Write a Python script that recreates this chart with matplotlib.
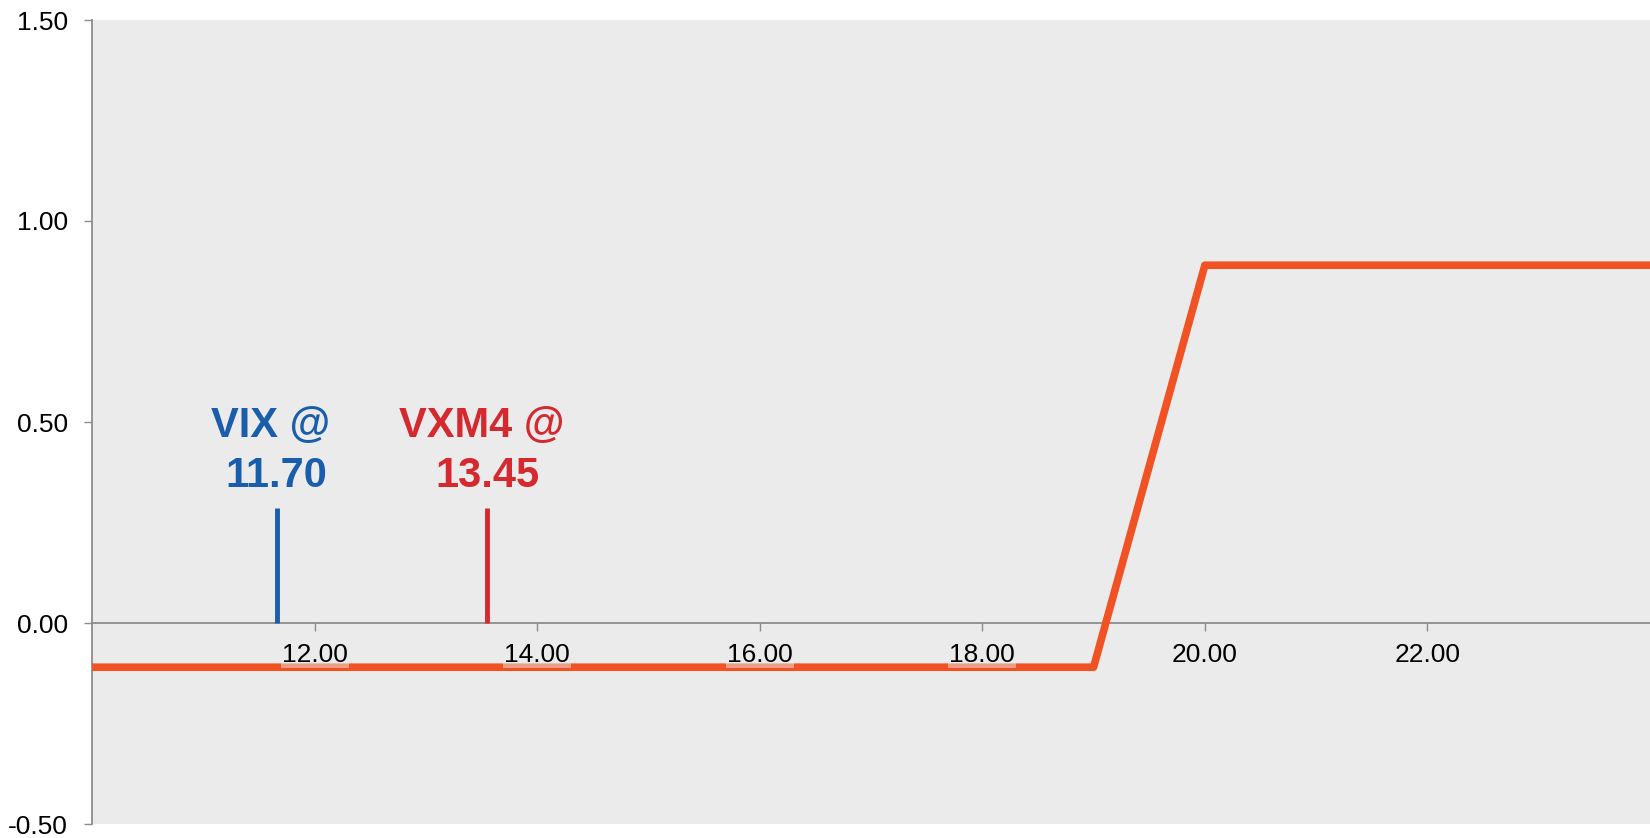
import numpy as np
import matplotlib
matplotlib.use("Agg")
import matplotlib.pyplot as plt

plt.rcParams['font.family'] = ['Liberation Sans', 'DejaVu Sans']

# payoff profile (VIX level -> P&L)
vix_level = [10.0, 19.0, 20.0, 24.0]
payoff = [-0.11, -0.11, 0.89, 0.89]

# reference markers
marker_names = ["VIX @", "VXM4 @"]
marker_labels = ["11.70", "13.45"]
marker_x = [11.66, 13.55]
marker_top = 0.285
marker_colors = ["#1a5eab", "#d42a2f"]

xticks = [12, 14, 16, 18, 20, 22]
yticks = [-0.5, 0.0, 0.5, 1.0, 1.5]
ytick_labels = ["-0.50", "0.00", "0.50", "1.00", "1.50"]

fig = plt.figure(figsize=(16.5, 8.38), dpi=100)
ax = fig.add_axes([92/1650, 14/838, 1 - 92/1650, 804/838])
ax.set_facecolor("#ebebeb")

ax.plot(vix_level, payoff, color="#f05224", lw=5.5, zorder=3)

for name, lab, x, c in zip(marker_names, marker_labels, marker_x, marker_colors):
	ax.plot([x, x], [0, marker_top], color=c, lw=3.5, solid_capstyle="butt", zorder=3)
	ax.text(x, 0.338, name + " \n" + lab, ha="center", va="baseline", multialignment="center",
			color=c, fontsize=30, fontweight="bold", linespacing=1.32)

ax.set_xlim(10, 24)
ax.set_ylim(-0.5, 1.5)

ax.spines["top"].set_visible(False)
ax.spines["right"].set_visible(False)
ax.spines["bottom"].set_position(("data", 0))
for s in ("left", "bottom"):
	ax.spines[s].set_color("#8c8c8c")
	ax.spines[s].set_linewidth(1.3)

ax.set_xticks(xticks, [f"{v:.2f}" for v in xticks])
ax.set_yticks(yticks, ytick_labels)
ax.tick_params(axis="both", colors="#8c8c8c", labelcolor="black", labelsize=19, length=6, width=1)
ax.tick_params(axis="x", pad=8.6)
ax.tick_params(axis="y", pad=11.5)
ax.xaxis.set_zorder(4)
for lbl in ax.get_xticklabels():
	lbl.set_bbox(dict(facecolor="#ebebeb", alpha=0.5, edgecolor="none", pad=0.8))

fig.savefig("out.png", dpi=100)
